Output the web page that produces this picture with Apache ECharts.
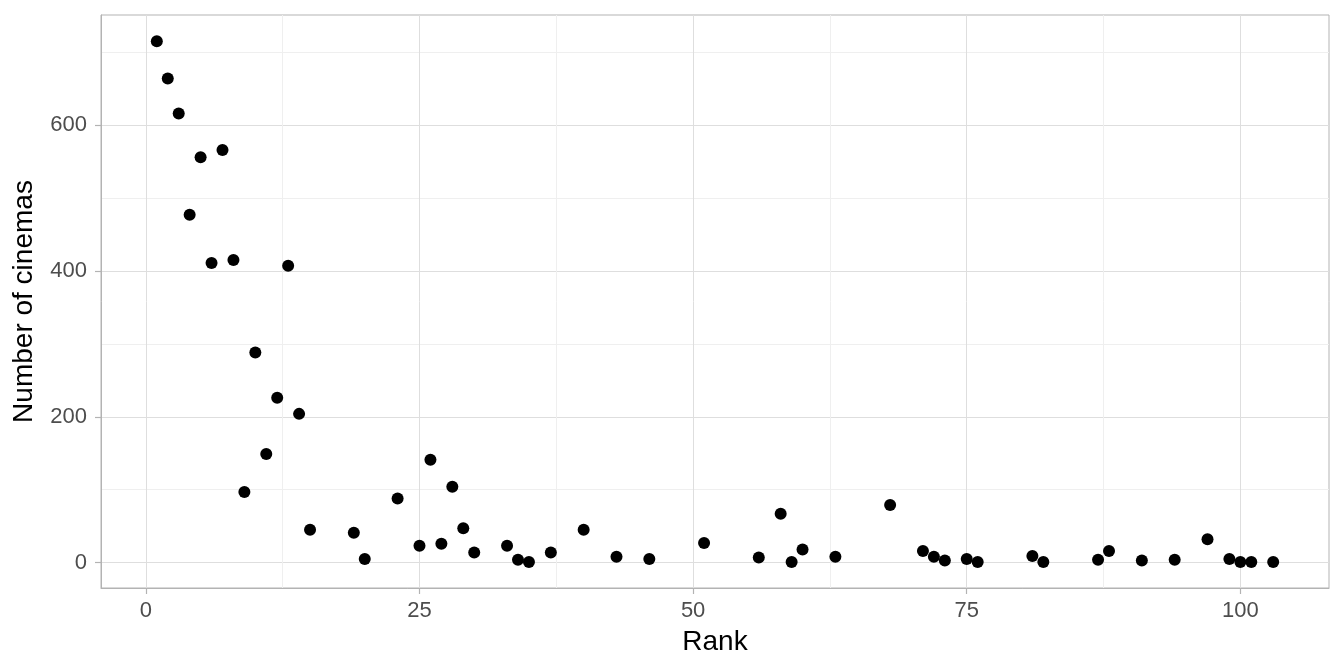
<!DOCTYPE html>
<html>
<head>
<meta charset="utf-8">
<script src="https://cdn.jsdelivr.net/npm/echarts@6/dist/echarts.min.js"></script>
<style>html,body{margin:0;padding:0;background:#fff}#c{width:1344px;height:672px}</style>
</head>
<body>
<div id="c"></div>
<script>
const ranks = [1,2,3,4,5,6,7,8,9,10,11,12,13,14,15,19,20,23,25,26,27,28,29,30,33,34,35,37,40,43,46,51,56,58,59,60,63,68,71,72,73,75,76,81,82,87,88,91,94,97,99,100,101,103];
const cinemas = [715,664,616,477,556,411,566,415,97,288,149,226,407,204,45,41,5,88,23,141,26,104,47,14,23,4,1,14,45,8,5,27,7,67,1,18,8,79,16,8,3,5,1,9,1,4,16,3,4,32,5,1,1,1];
const xTicks = [0,25,50,75,100];
const xMinor = [12.5,37.5,62.5,87.5];
const yTicks = [0,200,400,600];
const yMinor = [100,300,500,700];
const xTitle = 'Rank';
const yTitle = 'Number of cinemas';

const points = ranks.map((r,i)=>[r,cinemas[i]]);
const FONT = '"Liberation Sans", Arial, sans-serif';
const XMIN=-4.1, XMAX=108.1, YMIN=-34.8, YMAX=751;

const chart = echarts.init(document.getElementById('c'), null, {renderer:'canvas'});
chart.setOption({
  animation:false,
  backgroundColor:'#ffffff',
  grid:{left:101,top:15,width:1228,height:573,show:true,borderColor:'#B3B3B3',borderWidth:1,backgroundColor:'transparent',containLabel:false},
  xAxis:[
    {type:'value',min:XMIN,max:XMAX,position:'bottom',
     name:xTitle,nameLocation:'middle',nameGap:40,
     nameTextStyle:{fontFamily:FONT,fontSize:28,color:'#000'},
     axisLine:{show:true,onZero:false,lineStyle:{color:'#B3B3B3',width:1}},
     axisTick:{show:true,length:6,lineStyle:{color:'#B3B3B3',width:1.2},customValues:xTicks},
     axisLabel:{fontFamily:FONT,fontSize:22,color:'#4D4D4D',margin:12,customValues:xTicks},
     splitLine:{show:true,lineStyle:{color:'#DEDEDE',width:1}}},
    {type:'value',min:XMIN,max:XMAX,position:'bottom',
     axisLine:{show:false,onZero:false},
     axisTick:{show:false,customValues:xMinor},
     axisLabel:{show:false,customValues:xMinor},
     splitLine:{show:true,lineStyle:{color:'#EFEFEF',width:1}}}
  ],
  yAxis:[
    {type:'value',min:YMIN,max:YMAX,position:'left',
     name:yTitle,nameLocation:'middle',nameGap:63,
     nameTextStyle:{fontFamily:FONT,fontSize:28,color:'#000'},
     axisLine:{show:true,onZero:false,lineStyle:{color:'#B3B3B3',width:1}},
     axisTick:{show:true,length:6,lineStyle:{color:'#B3B3B3',width:1.2},customValues:yTicks},
     axisLabel:{fontFamily:FONT,fontSize:22,color:'#4D4D4D',margin:14,customValues:yTicks},
     splitLine:{show:true,lineStyle:{color:'#DEDEDE',width:1}}},
    {type:'value',min:YMIN,max:YMAX,position:'left',
     axisLine:{show:false,onZero:false},
     axisTick:{show:false,customValues:yMinor},
     axisLabel:{show:false,customValues:yMinor},
     splitLine:{show:true,lineStyle:{color:'#EFEFEF',width:1}}}
  ],
  series:[{
    type:'scatter',xAxisIndex:0,yAxisIndex:0,
    data:points,symbol:'circle',symbolSize:12,
    itemStyle:{color:'#000000',opacity:1},
    z:5
  }]
});
</script>
</body>
</html>
